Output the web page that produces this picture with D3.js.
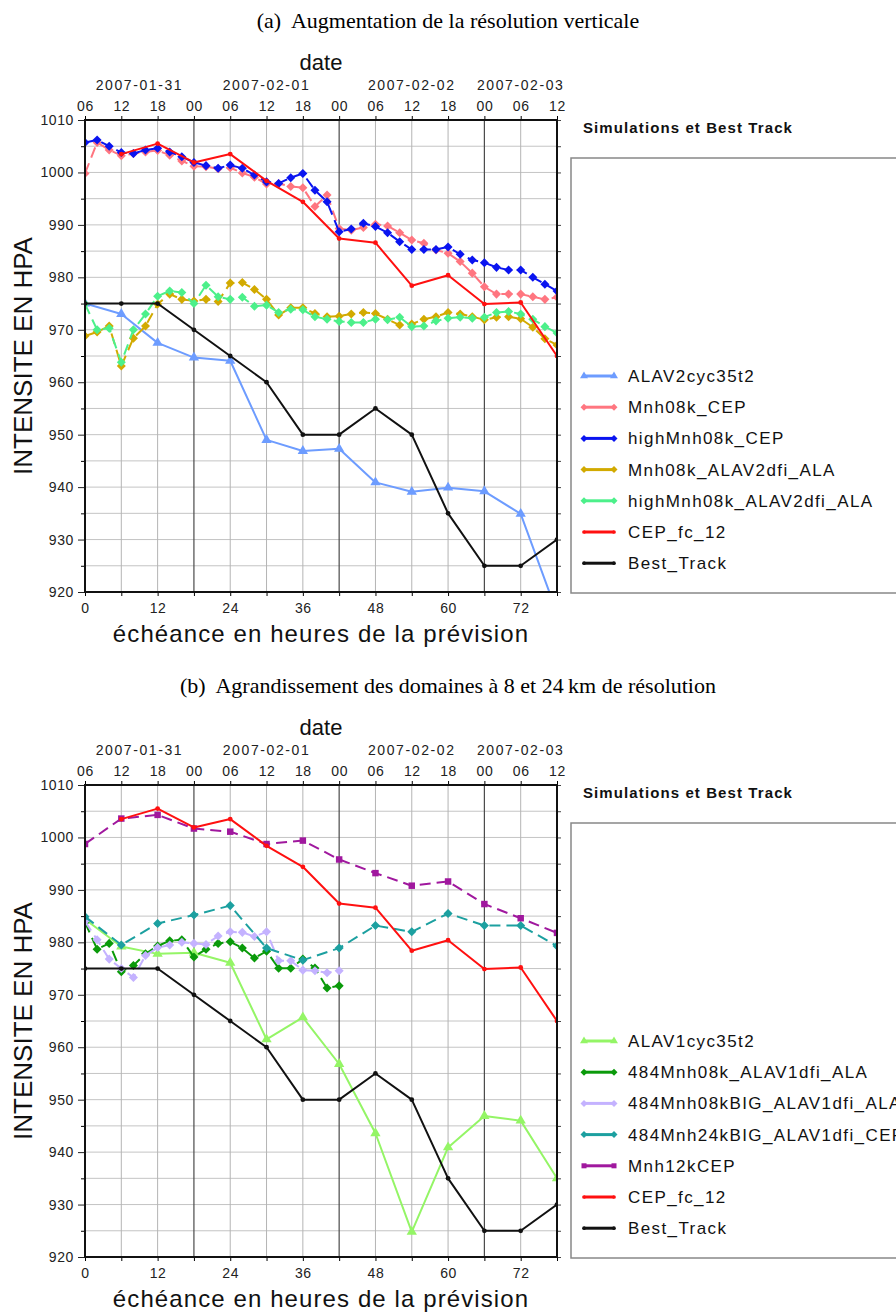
<!DOCTYPE html>
<html><head><meta charset="utf-8">
<script src="https://cdn.jsdelivr.net/npm/d3@7"></script>
<style>
html,body{margin:0;padding:0;background:#fff;}
svg{display:block;}
</style>
</head><body>
<svg id="chart" width="896" height="1313"></svg>
<script>
// ---------- DATA ----------
const hours6 = [0,6,12,18,24,30,36,42,48,54,60,66,72,78];
const hours2 = d3.range(0, 80, 2);           // 0..78 every 2 h
const hours2short = d3.range(0, 44, 2);      // 0..42 every 2 h
const cepHours = [6,12,18,24,30,36,42,48,54,60,66,72,78];

const xTickLabels = ["0","12","24","36","48","60","72"];
const xTickValues = [0,12,24,36,48,60,72];
const hourOfDayLabels = ["06","12","18","00","06","12","18","00","06","12","18","00","06","12"];
const dateLabels = ["2007-01-31","2007-02-01","2007-02-02","2007-02-03"];
const dateLabelHours = [9, 30, 54, 72];
const yTickValues = [920,930,940,950,960,970,980,990,1000,1010];

const bestTrack = [975,975,975,970,965,960,950,950,955,950,935,925,925,930];
const cepFc12 = [1003.5,1005.5,1001.9,1003.5,998.4,994.4,987.4,986.6,978.4,980.4,974.9,975.2,965];

// panel (a)
const alav2cyc35t2 = [975,973,967.5,964.7,964.1,949,946.9,947.3,940.9,939.1,939.9,939.2,934.9,916];
const mnh08kCEP = [999.8,1005.7,1004.3,1003.2,1003.6,1003.9,1004.2,1003.3,1002.2,1001.2,1001.1,1000.7,1000.9,999.9,999.1,997.8,997.9,997.3,997.1,993.5,995.7,989.3,989.0,989.5,990.1,989.8,988.5,987.1,986.5,985.2,984.6,983.0,980.8,978.2,976.8,976.8,976.8,976.3,975.8,976.2];
const highMnh08kCEP = [1005.7,1006.2,1005.0,1003.8,1003.6,1004.3,1004.6,1003.9,1003.0,1001.9,1001.3,1000.8,1001.4,1000.8,999.5,998.2,997.9,999.0,999.8,996.6,994.4,988.7,989.2,990.3,989.7,988.5,986.8,985.3,985.3,985.3,985.8,984.4,983.3,982.8,981.9,981.4,981.4,980.0,978.7,977.4];
const mnh08kALAV2dfiALA = [968.8,969.6,970.7,963.1,968.4,970.7,974.9,976.8,975.8,975.5,975.8,975.4,978.9,979.0,977.7,975.8,972.8,974.2,974.2,973.1,972.5,972.6,973.0,973.3,973.1,972.0,970.9,971.1,972.0,972.5,973.3,973.0,972.5,971.9,972.4,972.5,972.1,970.5,968.3,967.1];
const highMnh08kALAV2dfiALA = [974.9,970.0,970.3,963.8,970.0,973.0,976.4,977.4,977.1,975.0,978.5,976.3,975.8,976.2,974.5,974.7,973.3,973.9,973.8,972.5,972.0,971.6,971.4,971.4,972.0,971.9,972.4,970.6,970.7,971.7,972.2,972.4,972.2,972.4,973.3,973.5,973.0,972.0,970.6,969.4];

// panel (b)
const alav1cyc35t2 = [984.4,979.2,977.8,978.0,976.1,961.5,965.7,956.8,943.6,924.8,940.9,946.9,946.0,935.0];
const mnh08kALAV1dfiALA484 = [983.8,978.7,979.8,974.4,975.6,977.8,979.3,980.3,980.5,977.2,978.7,979.8,980.1,978.9,977.0,978.3,975.05,975.05,976.8,975.1,971.3,971.7];
const mnh08kBIGALAV1dfiALA484 = [984.0,980.5,976.8,975.0,973.3,977.5,979.0,979.5,980.0,979.8,979.6,981.2,982.0,981.9,981.1,982.0,976.5,976.5,974.7,974.6,974.2,974.6];
const mnh24kBIGALAV1dfiCEP484 = [984.9,979.5,983.6,985.2,987.0,978.9,976.6,978.9,983.2,982.0,985.5,983.2,983.2,979.3];
const mnh12kCEP = [998.75,1003.6,1004.3,1001.7,1001.1,998.75,999.4,995.8,993.2,990.8,991.6,987.3,984.6,981.8];

const seriesNamesA = ["ALAV2cyc35t2","Mnh08k_CEP","highMnh08k_CEP","Mnh08k_ALAV2dfi_ALA","highMnh08k_ALAV2dfi_ALA","CEP_fc_12","Best_Track"];
const seriesNamesB = ["ALAV1cyc35t2","484Mnh08k_ALAV1dfi_ALA","484Mnh08kBIG_ALAV1dfi_ALA","484Mnh24kBIG_ALAV1dfi_CEP","Mnh12kCEP","CEP_fc_12","Best_Track"];

// ---------- STYLE ----------
const panels = [
  {
    title: "(a)  Augmentation de la résolution verticale",
    top: 120,
    series: [
      {name: seriesNamesA[0], hours: hours6, values: alav2cyc35t2, color: "#6d9cff", dash: null, marker: "triangle"},
      {name: seriesNamesA[1], hours: hours2, values: mnh08kCEP, color: "#ff7680", dash: "11,6", marker: "diamond"},
      {name: seriesNamesA[2], hours: hours2, values: highMnh08kCEP, color: "#0a14f0", dash: "11,6", marker: "diamond"},
      {name: seriesNamesA[3], hours: hours2, values: mnh08kALAV2dfiALA, color: "#d2aa00", dash: "11,6", marker: "diamond"},
      {name: seriesNamesA[4], hours: hours2, values: highMnh08kALAV2dfiALA, color: "#4cf08a", dash: "11,6", marker: "diamond"},
      {name: seriesNamesA[5], hours: cepHours, values: cepFc12, color: "#ff1010", dash: null, marker: "circle"},
      {name: seriesNamesA[6], hours: hours6, values: bestTrack, color: "#111111", dash: null, marker: "circle"}
    ]
  },
  {
    title: "(b)  Agrandissement des domaines à 8 et 24\u2009km de résolution",
    top: 785,
    series: [
      {name: seriesNamesB[0], hours: hours6, values: alav1cyc35t2, color: "#94f566", dash: null, marker: "triangle"},
      {name: seriesNamesB[1], hours: hours2short, values: mnh08kALAV1dfiALA484, color: "#0a9a0a", dash: "11,6", marker: "diamond"},
      {name: seriesNamesB[2], hours: hours2short, values: mnh08kBIGALAV1dfiALA484, color: "#c4b2ff", dash: "11,6", marker: "diamond"},
      {name: seriesNamesB[3], hours: hours6, values: mnh24kBIGALAV1dfiCEP484, color: "#1ca0a0", dash: "11,6", marker: "diamond"},
      {name: seriesNamesB[4], hours: hours6, values: mnh12kCEP, color: "#a0189e", dash: "11,6", marker: "square"},
      {name: seriesNamesB[5], hours: cepHours, values: cepFc12, color: "#ff1010", dash: null, marker: "circle"},
      {name: seriesNamesB[6], hours: hours6, values: bestTrack, color: "#111111", dash: null, marker: "circle"}
    ]
  }
];

const svg = d3.select("#chart");
const PL = 85, PR = 557, PH = 472;
const sans = "'Liberation Sans', Arial, Helvetica, sans-serif";
const serif = "'Liberation Serif', 'Times New Roman', serif";

function symbolPath(type, big) {
  const k = big ? 1 : 0.6;
  if (type === "triangle") return d3.symbol(d3.symbolTriangle, 46 * k)();
  if (type === "diamond") return d3.symbol(d3.symbolDiamond2, 52 * k)();
  if (type === "square") return d3.symbol(d3.symbolSquare, 42 * k)();
  return d3.symbol(d3.symbolCircle, 18 * k)();
}

panels.forEach((p, pi) => {
  const top = p.top, bottom = top + PH;
  const x = d3.scaleLinear().domain([0, 78]).range([PL, PR]);
  const y = d3.scaleLinear().domain([920, 1010]).range([bottom, top]);
  const g = svg.append("g");

  // panel title
  g.append("text").attr("x", 448).attr("y", top - 92)
    .attr("text-anchor", "middle").attr("font-family", serif).attr("font-size", 22)
    .attr("xml:space", "preserve").style("white-space", "pre")
    .attr("fill", "#000").text(p.title);

  // grid
  const grid = g.append("g");
  grid.selectAll("line.h").data(d3.range(925, 1010, 5)).join("line")
    .attr("x1", PL).attr("x2", PR).attr("y1", d => y(d)).attr("y2", d => y(d))
    .attr("stroke", "#c4c4c4").attr("stroke-width", 1);
  grid.selectAll("line.v").data(d3.range(6, 78, 6)).join("line")
    .attr("y1", top).attr("y2", bottom).attr("x1", d => x(d)).attr("x2", d => x(d))
    .attr("stroke", d => (d % 24 === 18) ? "#4a4a4a" : "#b4b4b4")
    .attr("stroke-width", d => (d % 24 === 18) ? 1.2 : 1);

  // axes
  const yAxisL = d3.axisLeft(y).tickValues(yTickValues).tickSize(7).tickPadding(4).tickFormat(d3.format("d"));
  const gyl = g.append("g").attr("transform", `translate(${PL},0)`).call(yAxisL);
  gyl.select(".domain").remove();
  gyl.selectAll("text").attr("font-family", sans).attr("font-size", 14).attr("letter-spacing", 0.6).attr("fill", "#222");
  gyl.selectAll("line").attr("stroke", "#222");
  const yMinor = g.append("g").attr("transform", `translate(${PL},0)`)
    .call(d3.axisLeft(y).tickValues(d3.range(925, 1010, 10)).tickSize(4).tickFormat(""));
  yMinor.select(".domain").remove();
  const gyr = g.append("g").attr("transform", `translate(${PR},0)`)
    .call(d3.axisRight(y).tickValues(d3.range(920, 1011, 5)).tickSize(4).tickFormat(""));
  gyr.select(".domain").remove();
  gyr.selectAll("line").attr("stroke", "#444");

  const gxb = g.append("g").attr("transform", `translate(0,${bottom})`)
    .call(d3.axisBottom(x).tickValues(d3.range(0, 79, 6)).tickSize(4).tickPadding(7)
      .tickFormat(d => { const i = xTickValues.indexOf(d); return i >= 0 ? xTickLabels[i] : ""; }));
  gxb.select(".domain").remove();
  gxb.selectAll("text").attr("font-family", sans).attr("font-size", 14).attr("letter-spacing", 0.6).attr("fill", "#222");

  const gxt = g.append("g").attr("transform", `translate(0,${top})`)
    .call(d3.axisTop(x).tickValues(d3.range(0, 79, 6)).tickSize(4).tickPadding(5)
      .tickFormat((d, i) => hourOfDayLabels[i]));
  gxt.select(".domain").remove();
  gxt.selectAll("text").attr("font-family", sans).attr("font-size", 14).attr("letter-spacing", 0.6).attr("fill", "#222");

  g.selectAll(".dl").data(dateLabels).join("text")
    .attr("x", (d, i) => x(dateLabelHours[i])).attr("y", top - 30)
    .attr("text-anchor", "middle").attr("font-family", sans).attr("font-size", 14)
    .attr("letter-spacing", 1.6).attr("fill", "#222").text(d => d);

  g.append("text").attr("x", (PL + PR) / 2).attr("y", top - 50).attr("text-anchor", "middle")
    .attr("font-family", sans).attr("font-size", 22).attr("fill", "#111").text("date");

  g.append("text").attr("x", (PL + PR) / 2).attr("y", bottom + 50).attr("text-anchor", "middle")
    .attr("font-family", sans).attr("font-size", 24).attr("letter-spacing", 1.1)
    .attr("fill", "#111").text("échéance en heures de la prévision");

  g.append("text").attr("transform", `translate(32,${(top + bottom) / 2}) rotate(-90)`)
    .attr("text-anchor", "middle").attr("font-family", sans).attr("font-size", 26)
    .attr("fill", "#111").text("INTENSITE EN HPA");

  // clip
  const clipId = "clip" + pi;
  svg.append("clipPath").attr("id", clipId).append("rect")
    .attr("x", PL).attr("y", top).attr("width", PR - PL).attr("height", PH);

  const plot = g.append("g").attr("clip-path", `url(#${clipId})`);
  const line = d3.line().x(d => x(d[0])).y(d => y(d[1]));
  p.series.forEach(s => {
    const pts = s.hours.map((h, i) => [h, s.values[i]]);
    plot.append("path").attr("d", line(pts)).attr("fill", "none")
      .attr("stroke", s.color).attr("stroke-width", 2)
      .attr("stroke-dasharray", s.dash).attr("stroke-linejoin", "round");
    plot.selectAll(null).data(pts).join("path")
      .attr("transform", d => `translate(${x(d[0])},${y(d[1])})`)
      .attr("d", symbolPath(s.marker, true)).attr("fill", s.color);
  });

  // frame
  g.append("rect").attr("x", PL).attr("y", top).attr("width", PR - PL).attr("height", PH)
    .attr("fill", "none").attr("stroke", "#111").attr("stroke-width", 2);

  // legend
  const lg = g.append("g");
  lg.append("text").attr("x", 583).attr("y", top + 13).attr("font-family", sans)
    .attr("font-weight", "bold").attr("font-size", 15).attr("letter-spacing", 1.1)
    .attr("fill", "#111").text("Simulations et Best Track");
  lg.append("rect").attr("x", 571).attr("y", top + 38).attr("width", 400).attr("height", 435)
    .attr("fill", "none").attr("stroke", "#888").attr("stroke-width", 1.5);
  p.series.forEach((s, i) => {
    const ly = top + 256 + i * 31.2;
    lg.append("line").attr("x1", 584).attr("x2", 614).attr("y1", ly).attr("y2", ly)
      .attr("stroke", s.color).attr("stroke-width", 3);
    [584, 614].forEach(mx => lg.append("path").attr("transform", `translate(${mx},${ly})`)
      .attr("d", symbolPath(s.marker, false)).attr("fill", s.color));
    lg.append("text").attr("x", 628).attr("y", ly + 6).attr("font-family", sans)
      .attr("font-size", 17).attr("letter-spacing", 1.4).attr("fill", "#111").text(s.name);
  });
});
</script>
</body></html>
